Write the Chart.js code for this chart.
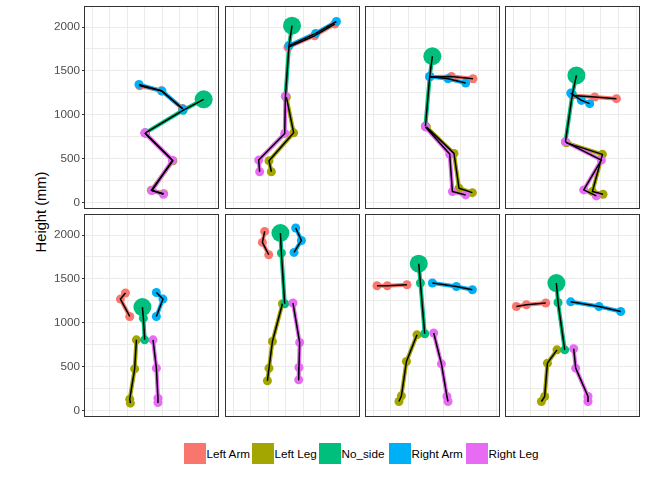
<!DOCTYPE html>
<html>
<head>
<meta charset="utf-8">
<script src="https://cdn.jsdelivr.net/npm/chart.js@4/dist/chart.umd.min.js"></script>
<style>
    body { margin: 0; background: #fff; }
    #wrap { position: relative; width: 672px; height: 480px; background: #fff; font-family: "Liberation Sans", Arial, sans-serif; }
    #wrap canvas { position: absolute; }
    .ytitle { position: absolute; left: 41px; top: 212px; transform: translate(-50%, -50%) rotate(-90deg); font-size: 14.7px; color: #000; white-space: nowrap; }
    .key { position: absolute; top: 443px; width: 22px; height: 21px; }
    .lab { position: absolute; top: 446px; font-size: 11.7px; color: #000; white-space: nowrap; line-height: 16px; }
</style>
</head>
<body>
<div id="wrap">
    <div class="ytitle">Height (mm)</div>
</div>
<script>
// groups as in the legend
const parts = ['Left Arm', 'Left Leg', 'No_side', 'Right Arm', 'Right Leg']
const partColors = ['#F8766D', '#A3A500', '#00BF7D', '#00B0F6', '#E76BF3']

// one entry per pose (row by row), joints in mm
const leftArmX = [[-58, 189, 428], [25, 329, 557], [45, 292, 537], [75, 329, 576], [-220, -277, -171], [-240, -266, -194], [-555, -437, -214], [-562, -448, -228]]
const leftArmY = [[1330, 1274, 1071], [1769, 1901, 2034], [1429, 1436, 1410], [1221, 1202, 1184], [1339, 1270, 1072], [2041, 1916, 1775], [1422, 1422, 1433], [1186, 1205, 1225]]
const leftLegX = [[5, 320, 75, 215], [7, 90, -191, -164], [7, 321, 378, 530], [7, 417, 303, 424], [-95, -115, -171, -164], [-38, -152, -191, -209], [-100, -220, -277, -305], [-100, -209, -240, -277]]
const leftLegY = [[790, 476, 140, 100], [1202, 794, 476, 351], [862, 560, 163, 113], [680, 549, 125, 95], [806, 475, 130, 84], [1217, 787, 483, 339], [863, 559, 168, 103], [692, 540, 160, 103]]
// head, neck, hip
const noSideX = [[670, 435, 7], [71, 37, -4], [75, 45, -4], [121, 75, -4], [-27, -16, -1], [-61, -50, -12], [-80, -61, -12], [-107, -88, -12]]
const noSideY = [[1176, 1051, 794], [2015, 1788, 1210], [1667, 1436, 870], [1448, 1232, 692], [1179, 1053, 806], [2023, 1795, 1217], [1673, 1453, 875], [1453, 1231, 692]]
const rightArmX = [[-66, 196, 435], [37, 340, 576], [45, 253, 454], [56, 178, 272], [132, 207, 132], [113, 178, 94], [75, 348, 530], [56, 378, 625]]
const rightArmY = [[1346, 1270, 1066], [1788, 1927, 2063], [1436, 1410, 1361], [1247, 1164, 1127], [1345, 1270, 1072], [2080, 1938, 1802], [1453, 1414, 1376], [1239, 1186, 1129]]
const rightLegX = [[-1, 314, 82, 212], [-4, -12, -308, -297], [-4, 272, 303, 454], [-4, 405, 204, 348], [94, 132, 150, 150], [82, 158, 150, 147], [90, 178, 241, 253], [90, 113, 253, 253]]
const rightLegY = [[794, 481, 136, 95], [1210, 787, 484, 351], [862, 552, 125, 87], [692, 484, 144, 76], [806, 483, 141, 91], [1225, 775, 490, 350], [883, 532, 160, 103], [704, 483, 160, 103]]

const yTicks = [0, 250, 500, 750, 1000, 1250, 1500, 1750, 2000]
const xTicks = [-600, -400, -200, 0, 200, 400, 600, 800]

const partsX = [leftArmX, leftLegX, noSideX, rightArmX, rightLegX]
const partsY = [leftArmY, leftLegY, noSideY, rightArmY, rightLegY]

const panelLeft = [85, 226, 366, 506]
const panelTop = [7, 215]
const panelW = 133
const panelH = 201

const wrap = document.getElementById('wrap')

const panelBorder = {
    id: 'panelBorder',
    afterDraw(chart) {
        const a = chart.chartArea
        const ctx = chart.ctx
        ctx.save()
        ctx.strokeStyle = '#333333'
        ctx.lineWidth = 1
        ctx.strokeRect(a.left - 0.5, a.top - 0.5, a.right - a.left + 1, a.bottom - a.top + 1)
        ctx.restore()
    }
}

const makePanel = (pose) => {
    const row = Math.floor(pose / 4)
    const col = pose % 4
    const first = col == 0

    const canvas = document.createElement('canvas')
    const left = first ? 0 : panelLeft[col] - 2
    canvas.width = first ? panelLeft[0] + panelW + 2 : panelW + 4
    canvas.height = panelH + 4
    canvas.style.left = left + 'px'
    canvas.style.top = (panelTop[row] - 2) + 'px'
    wrap.appendChild(canvas)

    let paths = []
    let dots = []
    let blacks = []

    parts.map((part, p) => {
        const pts = partsX[p][pose].map((x, i) => ({ x: x, y: partsY[p][pose][i] }))
        paths.push({
            label: part,
            data: pts,
            showLine: true,
            borderColor: partColors[p],
            borderWidth: 4,
            borderCapStyle: 'butt',
            borderJoinStyle: 'round',
            pointRadius: 0,
            order: 14 - p
        })
        dots.push({
            label: part,
            data: pts,
            showLine: false,
            pointRadius: part == 'No_side' ? pts.map((d, i) => i == 0 ? 9 : 4.5) : 4.5,
            pointBackgroundColor: partColors[p],
            pointBorderColor: partColors[p],
            pointBorderWidth: 0,
            order: 9 - p
        })
        blacks.push({
            label: part,
            data: pts,
            showLine: true,
            borderColor: '#000000',
            borderWidth: 1.5,
            borderJoinStyle: 'round',
            pointRadius: 0,
            order: 4 - p
        })
    })

    const config = {
        type: 'scatter',
        data: { datasets: [...paths, ...dots, ...blacks] },
        options: {
            responsive: false,
            animation: false,
            layout: {
                autoPadding: false,
                padding: { left: first ? 0 : 2, right: 2, top: 2, bottom: 2 }
            },
            plugins: {
                legend: { display: false },
                tooltip: { enabled: false }
            },
            scales: {
                x: {
                    type: 'linear',
                    min: -680,
                    max: 833,
                    afterBuildTicks: (s) => { s.ticks = xTicks.map(v => ({ value: v })) },
                    afterFit: (s) => { s.height = 0 },
                    ticks: { display: false },
                    border: { display: false },
                    grid: { color: '#EBEBEB', lineWidth: 1, drawTicks: false }
                },
                y: {
                    type: 'linear',
                    min: -62,
                    max: 2228,
                    afterBuildTicks: (s) => { s.ticks = yTicks.map(v => ({ value: v })) },
                    afterFit: (s) => {
                        s.width = first ? panelLeft[0] : 0
                        // labels sit well inside the panel, no extra room needed
                        s.paddingTop = 0
                        s.paddingBottom = 0
                    },
                    ticks: {
                        display: first,
                        padding: 2,
                        color: '#4D4D4D',
                        font: { family: '"Liberation Sans", Arial', size: 11.7 },
                        callback: (v) => v % 500 == 0 ? String(v) : ''
                    },
                    border: { display: false },
                    grid: {
                        color: '#EBEBEB',
                        lineWidth: 1,
                        drawTicks: first,
                        tickLength: 3,
                        tickColor: (ctx) => ctx.tick && ctx.tick.value % 500 == 0 ? '#333333' : 'rgba(0,0,0,0)'
                    }
                }
            }
        },
        plugins: [panelBorder]
    }

    new Chart(canvas.getContext('2d'), config)
}

for (let i = 0; i < 8; i++) makePanel(i)

// legend
const keyLeft = [184, 252, 319, 389, 466]
parts.map((part, p) => {
    const key = document.createElement('div')
    key.className = 'key'
    key.style.left = keyLeft[p] + 'px'
    key.style.background = partColors[p]
    wrap.appendChild(key)

    const lab = document.createElement('div')
    lab.className = 'lab'
    lab.style.left = (keyLeft[p] + 22.5) + 'px'
    lab.textContent = part
    wrap.appendChild(lab)
})
</script>
</body>
</html>
